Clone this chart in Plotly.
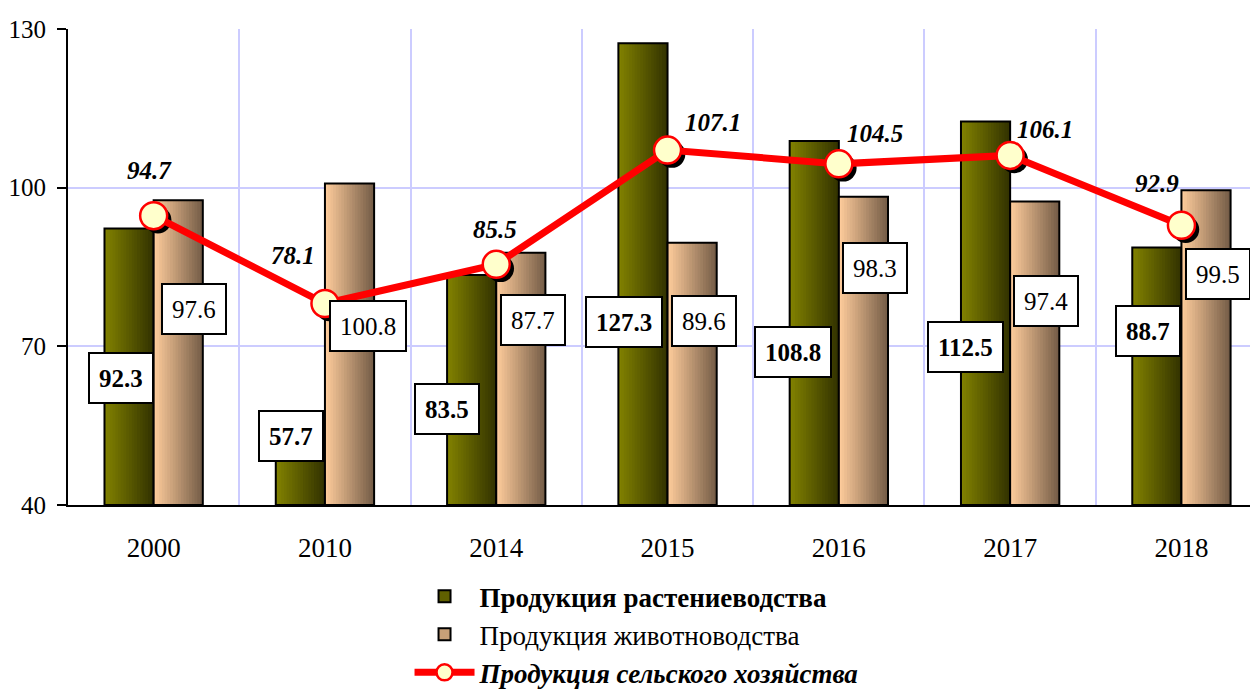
import plotly.graph_objects as go

# ---- data ----
years = ["2000", "2010", "2014", "2015", "2016", "2017", "2018"]
crop = [92.3, 57.7, 83.5, 127.3, 108.8, 112.5, 88.7]
livestock = [97.6, 100.8, 87.7, 89.6, 98.3, 97.4, 99.5]
agri = [94.7, 78.1, 85.5, 107.1, 104.5, 106.1, 92.9]

names = ["<b>Продукция растениеводства</b>",
         "Продукция животноводства",
         "<b><i>Продукция сельского хозяйства</i></b>"]

# ---- label placement (positions, not data) ----
crop_lab_y = [64.0, 53.0, 58.2, 74.6, 68.9, 69.9, 72.9]
crop_lab_dx = [-33, -34, -49, -44, -46, -45, -33]
live_lab_y = [77.1, 73.8, 75.0, 74.8, 84.8, 78.5, 83.6]
live_lab_dx = [40, 43, 37, 36, 36, 36, 37]
agri_lab_dx = [-4, -32, -1, 45, 36, 35, -24]
agri_lab_dy = [45, 48, 35, 28, 30, 26, 42]

FONT = "Liberation Serif, Times New Roman, serif"
idx = list(range(len(years)))
W = 0.287
N = 18


def lerp(c1, c2, t):
    return "rgb(%d,%d,%d)" % tuple(round(a + (b - a) * t) for a, b in zip(c1, c2))


fig = go.Figure()

series = [
    (crop, -W, (128, 128, 0), (52, 52, 0)),
    (livestock, 0.0, (252, 202, 154), (118, 94, 72)),
]
for vals, off0, c1, c2 in series:
    step = W / N
    for i in range(N):
        fig.add_trace(go.Bar(
            x=idx, y=[v - 40 for v in vals], base=40,
            width=W - i * step, offset=off0 + i * step,
            marker=dict(color=lerp(c1, c2, i / (N - 1)), line=dict(width=0)),
            showlegend=False, hoverinfo="skip"))
    fig.add_trace(go.Bar(
        x=idx, y=[v - 40 for v in vals], base=40, width=W, offset=off0,
        marker=dict(color="rgba(0,0,0,0)", line=dict(color="black", width=2)),
        showlegend=False, hoverinfo="skip"))

# legend-only entries for bars
fig.add_trace(go.Bar(x=[None], y=[None], name=names[0], legendrank=1,
                     marker=dict(color="rgb(96,96,0)", line=dict(color="black", width=2))))
fig.add_trace(go.Bar(x=[None], y=[None], name=names[1], legendrank=2,
                     marker=dict(color="rgb(200,160,120)", line=dict(color="black", width=2))))

# shadow of line markers
fig.add_trace(go.Scatter(
    x=[i + 0.025 for i in idx], y=[v - 0.8 for v in agri], mode="markers",
    marker=dict(size=27, color="black"), showlegend=False, hoverinfo="skip"))

fig.add_trace(go.Scatter(
    x=idx, y=agri, mode="lines+markers", name=names[2], legendrank=3,
    line=dict(color="#FF0000", width=7),
    marker=dict(size=27, color="#FFFFCC", line=dict(color="#FF0000", width=2.5))))

ann = []
for i in idx:
    ann.append(dict(x=i, y=crop_lab_y[i], xref="x", yref="y", xshift=crop_lab_dx[i],
                    text="<b>%.1f</b>" % crop[i], showarrow=False, height=30,
                    font=dict(family=FONT, size=25, color="black"),
                    bgcolor="white", bordercolor="black", borderwidth=2, borderpad=9,
                    yanchor="middle", xanchor="center"))
    ann.append(dict(x=i, y=live_lab_y[i], xref="x", yref="y", xshift=live_lab_dx[i],
                    text="%.1f" % livestock[i], showarrow=False, height=30,
                    font=dict(family=FONT, size=25, color="black"),
                    bgcolor="white", bordercolor="black", borderwidth=2, borderpad=9,
                    yanchor="middle", xanchor="center"))
    ann.append(dict(x=i, y=agri[i], xref="x", yref="y", xshift=agri_lab_dx[i],
                    yshift=agri_lab_dy[i],
                    text="<b><i>%.1f</i></b>" % agri[i], showarrow=False,
                    font=dict(family=FONT, size=25, color="black"),
                    yanchor="middle", xanchor="center"))

fig.update_layout(
    width=1250, height=730,
    margin=dict(l=60, r=0, t=21, b=233),
    paper_bgcolor="white", plot_bgcolor="white",
    barmode="overlay",
    font=dict(family=FONT, color="black"),
    annotations=ann,
    showlegend=True,
    legend=dict(x=0.287, y=-0.141, xanchor="left", yanchor="top", itemwidth=60,
                font=dict(family=FONT, size=27, color="black"),
                bgcolor="rgba(0,0,0,0)", tracegroupgap=0),
    xaxis=dict(range=[-0.5, 6.447], tickvals=idx, ticktext=years,
               showgrid=False, zeroline=False,
               showline=True, linecolor="black", linewidth=2,
               ticks="", ticklabelstandoff=18,
               tickfont=dict(family=FONT, size=27, color="black"),
               minor=dict(tickvals=[i + 0.5 for i in idx], showgrid=True,
                          gridcolor="#CCCCFF", gridwidth=2, ticks="")),
    yaxis=dict(range=[40, 130], tickvals=[40, 70, 100, 130],
               showgrid=True, gridcolor="#CCCCFF", gridwidth=2, zeroline=False,
               showline=True, linecolor="black", linewidth=2,
               ticks="outside", ticklen=9, tickwidth=2, tickcolor="black",
               ticklabelstandoff=6,
               tickfont=dict(family=FONT, size=25, color="black")),
)

fig.write_html("out.html")
